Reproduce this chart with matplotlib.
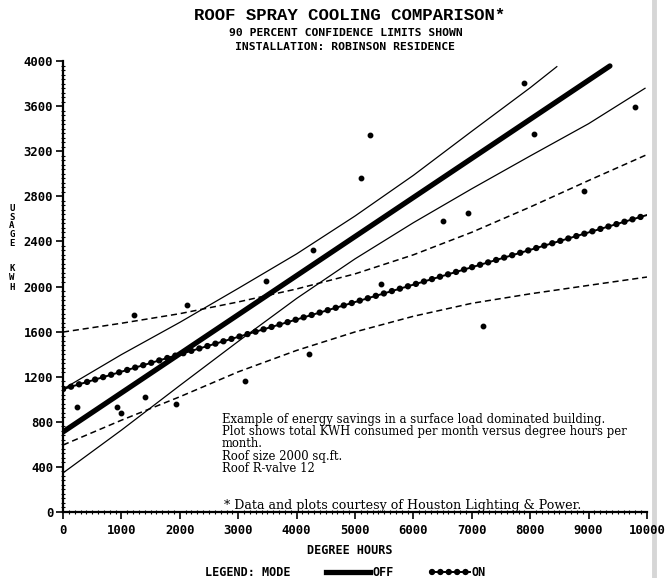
import matplotlib
matplotlib.use("Agg")
import matplotlib.pyplot as plt
from matplotlib.lines import Line2D
from matplotlib.ticker import MultipleLocator

# ---------------- data ----------------
off_x = [0, 9365]
off_y = [710, 3956]
on_x = [0, 10000]
on_y = [1090, 2634]

off_upper_x = [0, 1000, 2000, 3000, 4000, 5000, 6000, 7000, 8000, 8456]
off_upper_y = [1090, 1396, 1682, 1983, 2289, 2625, 2986, 3377, 3763, 3950]
off_lower_x = [0, 1000, 2000, 3000, 4000, 5000, 6000, 7000, 8000, 9000, 9966]
off_lower_y = [346, 726, 1122, 1513, 1894, 2245, 2566, 2867, 3158, 3444, 3758]

on_band_x = [0, 1000, 2000, 3000, 4000, 5000, 6000, 7000, 8000, 9000, 10000]
on_upper_y = [1596, 1674, 1759, 1863, 1978, 2112, 2281, 2481, 2705, 2940, 3170]
on_lower_y = [594, 814, 1022, 1243, 1433, 1597, 1736, 1851, 1935, 2010, 2084]

pts_x = [240, 926, 995, 1218, 1407, 1938, 2127, 3122, 3482, 4220, 4280,
         5111, 5250, 5446, 6501, 6930, 7187, 7890, 8062, 8919, 9794]
pts_y = [931, 931, 878, 1747, 1020, 958, 1836, 1165, 2049, 1401, 2320,
         2962, 3348, 2018, 2581, 2652, 1650, 3805, 3352, 2847, 3592]

x_ticks = [0, 1000, 2000, 3000, 4000, 5000, 6000, 7000, 8000, 9000, 10000]
y_ticks = [0, 400, 800, 1200, 1600, 2000, 2400, 2800, 3200, 3600, 4000]

title = "ROOF SPRAY COOLING COMPARISON*"
sub1 = "90 PERCENT CONFIDENCE LIMITS SHOWN"
sub2 = "INSTALLATION: ROBINSON RESIDENCE"
note_lines = [
    "Example of energy savings in a surface load dominated building.",
    "Plot shows total KWH consumed per month versus degree hours per",
    "month.",
    "Roof size 2000 sq.ft.",
    "Roof R-valve 12",
]
credit = "* Data and plots courtesy of Houston Lighting & Power."

# ---------------- figure ----------------
W, H = 669, 578
fig = plt.figure(figsize=(W / 100, H / 100), dpi=100)
fig.patch.set_facecolor("white")

def fx(px):
    return px / W

def fy(py):
    return 1 - py / H

# scanned page edge at the right (behind everything)
fig.add_artist(Line2D([fx(654), fx(654)], [0, 1], transform=fig.transFigure,
                      color="#d6d6d6", lw=3.5, zorder=-5))

ax_l, ax_r, ax_t, ax_b = 63, 647, 61, 512
ax = fig.add_axes([fx(ax_l), fy(ax_b), fx(ax_r) - fx(ax_l), fy(ax_t) - fy(ax_b)])
ax.set_xlim(0, 10000)
ax.set_ylim(0, 4000)

mono = "DejaVu Sans Mono"

# confidence limits for OFF (thin solid)
ax.plot(off_upper_x, off_upper_y, color="black", lw=0.9)
ax.plot(off_lower_x, off_lower_y, color="black", lw=0.9)
# confidence limits for ON (dashed)
ax.plot(on_band_x, on_upper_y, color="black", lw=1.1, dashes=(4, 2.5))
ax.plot(on_band_x, on_lower_y, color="black", lw=1.1, dashes=(4, 2.5))

# OFF regression line (thick)
ax.plot(off_x, off_y, color="black", lw=3.8, solid_capstyle="round")
# ON regression line (beaded)
ax.plot(on_x, on_y, color="black", lw=1.4)
ax.plot(on_x, on_y, color="black", lw=4.6, dashes=(0.01, 1.3),
        dash_capstyle="round")

# data points
ax.plot(pts_x, pts_y, "o", color="black", ms=3.2, ls="none")

# axes styling
for s in ["top", "right"]:
    ax.spines[s].set_visible(False)
ax.spines["left"].set_linewidth(1.6)
ax.spines["bottom"].set_linewidth(1.6)
ax.set_xticks(x_ticks)
ax.set_yticks(y_ticks)
ax.xaxis.set_minor_locator(MultipleLocator(100))
ax.yaxis.set_minor_locator(MultipleLocator(40))
ax.tick_params(axis="both", which="major", direction="out", length=5,
               width=1.2, labelsize=8.8, pad=2)
ax.tick_params(axis="x", which="major", pad=4)
ax.tick_params(axis="both", which="minor", direction="inout", length=3.5,
               width=0.8)
for lab in ax.get_xticklabels() + ax.get_yticklabels():
    lab.set_family(mono)
    lab.set_fontweight("bold")

# titles
fig.text(fx(350), fy(15), title, ha="center", va="center",
         family="Liberation Mono", fontweight="bold", fontsize=12.5)
fig.text(fx(346), fy(32.5), sub1, ha="center", va="center",
         family=mono, fontweight="bold", fontsize=8.2)
fig.text(fx(345), fy(46.5), sub2, ha="center", va="center",
         family=mono, fontweight="bold", fontsize=8.2)

# y label (stacked letters)
fig.text(fx(12), fy(226), "U\nS\nA\nG\nE", ha="center", va="center",
         family=mono, fontweight="bold", fontsize=6.5, linespacing=0.95)
fig.text(fx(12), fy(278), "K\nW\nH", ha="center", va="center",
         family=mono, fontweight="bold", fontsize=6.5, linespacing=1.05)

# annotation block
fig.text(fx(222), fy(413), "\n".join(note_lines), ha="left", va="top",
         family="DejaVu Serif", fontsize=8.4, linespacing=0.92)
fig.text(fx(224), fy(506), credit, ha="left", va="center",
         family="DejaVu Serif", fontsize=9.1)

# x label and legend
fig.text(fx(350), fy(550), "DEGREE HOURS", ha="center", va="center",
         family=mono, fontweight="bold", fontsize=8.5)
fig.text(fx(205), fy(572), "LEGEND: MODE", ha="left", va="center",
         family=mono, fontweight="bold", fontsize=8.5)

leg = fig.add_axes([0, 0, 1, 1], facecolor="none")
leg.set_xlim(0, W)
leg.set_ylim(H, 0)
leg.axis("off")
leg.plot([326, 370], [572, 572], color="black", lw=3.8)
fig.text(fx(372), fy(572), "OFF", ha="left", va="center",
         family=mono, fontweight="bold", fontsize=8.5)
leg.plot([432, 470], [572, 572], color="black", lw=1.4)
leg.plot([432, 470], [572, 572], color="black", lw=4.6, dashes=(0.01, 1.3),
         dash_capstyle="round")
fig.text(fx(472), fy(572), "ON", ha="left", va="center",
         family=mono, fontweight="bold", fontsize=8.5)

fig.savefig("out.png", dpi=100, facecolor="white")
